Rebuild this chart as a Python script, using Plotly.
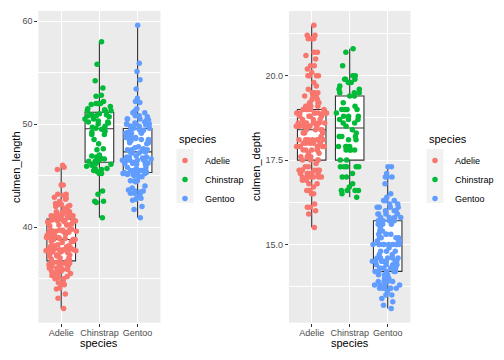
import plotly.graph_objects as go

species = ["Adelie", "Chinstrap", "Gentoo"]
colors = ["#F8766D", "#00BA38", "#619CFF"]

adelie_length = [39.1, 39.5, 40.3, 36.7, 39.3, 38.9, 39.2, 34.1, 42.0, 37.8, 37.8, 41.1, 38.6, 34.6, 36.6, 38.7, 42.5, 34.4, 46.0, 37.8, 37.7, 35.9, 38.2, 38.8, 35.3, 40.6, 40.5, 37.9, 40.5, 39.5, 37.2, 39.5, 40.9, 36.4, 39.2, 38.8, 42.2, 37.6, 39.8, 36.5, 40.8, 36.0, 44.1, 37.0, 39.6, 41.1, 37.5, 36.0, 42.3, 39.6, 40.1, 35.0, 42.0, 34.5, 41.4, 39.0, 40.6, 36.5, 37.6, 35.7, 41.3, 37.6, 41.1, 36.4, 41.6, 35.5, 41.1, 35.9, 41.8, 33.5, 39.7, 39.6, 45.8, 35.5, 42.8, 40.9, 37.2, 36.2, 42.1, 34.6, 42.9, 36.7, 35.1, 37.3, 41.3, 36.3, 36.9, 38.3, 38.9, 35.7, 41.1, 34.0, 39.6, 36.2, 40.8, 38.1, 40.3, 33.1, 43.2, 35.0, 41.0, 37.7, 37.8, 37.9, 39.7, 38.6, 38.2, 38.1, 43.2, 38.1, 45.6, 39.7, 42.2, 39.6, 42.7, 38.6, 37.3, 35.7, 41.1, 36.2, 37.7, 40.2, 41.4, 35.2, 40.6, 38.8, 41.5, 39.0, 44.1, 38.5, 43.1, 36.8, 37.5, 38.1, 41.1, 35.6, 40.2, 37.0, 39.7, 40.2, 40.6, 32.1, 40.7, 37.3, 39.0, 39.2, 36.6, 36.0, 37.8, 36.0, 41.5]
adelie_depth = [18.7, 17.4, 18.0, 19.3, 20.6, 17.8, 19.6, 18.1, 20.2, 17.1, 17.3, 17.6, 21.2, 21.1, 17.8, 19.0, 20.7, 18.4, 21.5, 18.3, 18.7, 19.2, 18.1, 17.2, 18.9, 18.6, 17.9, 18.6, 18.9, 16.7, 18.1, 17.8, 18.9, 17.0, 21.1, 20.0, 18.5, 19.3, 19.1, 18.0, 18.4, 18.5, 19.7, 16.9, 18.8, 19.0, 18.9, 17.9, 21.2, 17.7, 18.9, 17.9, 19.5, 18.1, 18.6, 17.5, 18.8, 16.6, 19.1, 16.9, 21.1, 17.0, 18.2, 17.1, 18.0, 16.2, 19.1, 16.6, 19.4, 19.0, 18.4, 17.2, 18.9, 17.5, 18.5, 16.8, 19.4, 16.1, 19.1, 17.2, 17.6, 18.8, 19.4, 17.8, 20.3, 19.5, 18.6, 19.2, 18.8, 18.0, 18.1, 17.1, 18.1, 17.3, 18.9, 18.6, 18.5, 16.1, 18.5, 17.9, 20.0, 16.0, 20.0, 18.6, 18.9, 17.2, 20.0, 17.0, 19.0, 16.5, 20.3, 17.7, 19.5, 20.7, 18.3, 17.0, 20.5, 17.0, 18.6, 17.2, 19.8, 17.0, 18.5, 15.9, 19.0, 17.6, 18.3, 17.1, 18.0, 17.9, 19.2, 18.5, 18.5, 17.6, 17.5, 17.5, 20.1, 16.5, 17.9, 17.1, 17.2, 15.5, 17.0, 16.8, 18.7, 18.6, 18.4, 17.8, 18.1, 17.1, 18.5]

chinstrap_length = [46.5, 50.0, 51.3, 45.4, 52.7, 45.2, 46.1, 51.3, 46.0, 51.3, 46.6, 51.7, 47.0, 52.0, 45.9, 50.5, 50.3, 58.0, 46.4, 49.2, 42.4, 48.5, 43.2, 50.6, 46.7, 52.0, 50.5, 49.5, 46.4, 52.8, 40.9, 54.2, 42.5, 51.0, 49.7, 47.5, 47.6, 52.0, 46.9, 53.5, 49.0, 46.2, 50.9, 45.5, 50.9, 50.8, 50.1, 49.0, 51.5, 49.8, 48.1, 51.4, 45.7, 50.7, 42.5, 52.2, 45.2, 49.3, 50.2, 45.6, 51.9, 46.8, 45.7, 55.8, 43.5, 49.6, 50.8, 50.2]
chinstrap_depth = [17.9, 19.5, 19.2, 18.7, 19.8, 17.8, 18.2, 18.2, 18.9, 19.9, 17.8, 20.3, 17.3, 18.1, 17.1, 19.6, 20.0, 17.8, 18.6, 18.2, 17.3, 17.5, 16.6, 19.4, 17.9, 19.0, 18.4, 19.0, 17.8, 20.0, 16.6, 20.8, 16.7, 18.8, 18.6, 16.8, 18.3, 20.7, 16.6, 19.9, 19.5, 17.5, 19.1, 17.0, 17.9, 18.5, 17.9, 19.6, 18.7, 17.3, 16.4, 19.0, 17.3, 19.7, 17.3, 18.8, 16.6, 19.9, 18.8, 19.4, 19.5, 16.5, 17.0, 19.8, 18.1, 18.2, 19.0, 18.7]

gentoo_length = [46.1, 50.0, 48.7, 50.0, 47.6, 46.5, 45.4, 46.7, 43.3, 46.8, 40.9, 49.0, 45.5, 48.4, 45.8, 49.3, 42.0, 49.2, 46.2, 48.7, 50.2, 45.1, 46.5, 46.3, 42.9, 46.1, 44.5, 47.8, 48.2, 50.0, 47.3, 42.8, 45.1, 59.6, 49.1, 48.4, 42.6, 44.4, 44.0, 48.7, 42.7, 49.6, 45.3, 49.6, 50.5, 43.6, 45.5, 50.5, 44.9, 45.2, 46.6, 48.5, 45.1, 50.1, 46.5, 45.0, 43.8, 45.5, 43.2, 50.4, 45.3, 46.2, 45.7, 54.3, 45.8, 49.8, 46.2, 49.5, 43.5, 50.7, 47.7, 46.4, 48.2, 46.5, 46.4, 48.6, 47.5, 51.1, 45.2, 45.2, 49.1, 52.5, 47.4, 50.0, 44.9, 50.8, 43.4, 51.3, 47.5, 52.1, 47.5, 52.2, 45.5, 49.5, 44.5, 50.8, 49.4, 46.9, 48.4, 51.1, 48.5, 55.9, 47.2, 49.1, 47.3, 46.8, 41.7, 53.4, 43.3, 48.1, 50.5, 49.8, 43.5, 51.5, 46.2, 55.1, 44.5, 48.8, 47.2, 46.8, 50.4, 45.2, 49.9]
gentoo_depth = [13.2, 16.3, 14.1, 15.2, 14.5, 13.5, 14.6, 15.3, 13.4, 15.4, 13.7, 16.1, 13.7, 14.6, 14.6, 15.7, 13.5, 15.2, 14.5, 15.1, 14.3, 14.5, 14.5, 15.8, 13.1, 15.1, 14.3, 15.0, 14.3, 15.3, 15.3, 14.2, 14.5, 17.0, 14.8, 16.3, 13.7, 17.3, 13.6, 15.7, 13.7, 16.0, 13.7, 15.0, 15.9, 13.9, 13.9, 15.9, 13.3, 15.8, 14.2, 14.1, 14.4, 15.0, 14.4, 15.4, 13.9, 15.0, 14.5, 15.3, 13.8, 14.9, 13.9, 15.7, 14.2, 16.8, 14.4, 16.2, 14.2, 15.0, 15.0, 15.6, 15.6, 14.8, 15.0, 16.0, 14.2, 16.3, 13.8, 16.4, 14.5, 15.6, 14.6, 15.9, 13.8, 17.3, 14.4, 14.2, 14.0, 17.0, 15.0, 17.1, 14.5, 16.1, 14.7, 15.7, 15.8, 14.6, 14.4, 16.5, 15.0, 17.0, 15.5, 15.0, 13.8, 16.1, 14.7, 15.8, 14.0, 15.1, 15.2, 15.9, 15.2, 16.3, 14.1, 16.0, 15.7, 16.2, 13.7, 14.3, 15.7, 14.8, 16.1]

length_ticks = [40, 50, 60]
depth_ticks = [15.0, 17.5, 20.0]

lengths = [adelie_length, chinstrap_length, gentoo_length]
depths = [adelie_depth, chinstrap_depth, gentoo_depth]

FONT = "Liberation Sans, Arial, sans-serif"
W, H = 504, 360

def px_x(p):
    return p / W

def px_y(p):
    return 1 - p / H

fig = go.Figure()

panels = [("x", "y", lengths, "legend"), ("x2", "y2", depths, "legend2")]
for xa, ya, values, leg in panels:
    for sp, vals in zip(species, values):
        fig.add_trace(go.Box(
            x=[sp] * len(vals), y=vals, xaxis=xa, yaxis=ya,
            width=0.75, boxpoints=False, whiskerwidth=0,
            fillcolor="white", line=dict(color="#333333", width=1.1),
            showlegend=False, hoverinfo="skip",
        ))
    for sp, vals, c in zip(species, values, colors):
        fig.add_trace(go.Box(
            x=[sp] * len(vals), y=vals, xaxis=xa, yaxis=ya,
            width=0.82, boxpoints="all", jitter=1, pointpos=0,
            fillcolor="rgba(0,0,0,0)", line=dict(color="rgba(0,0,0,0)", width=0),
            marker=dict(color=c, size=5.5, line=dict(width=0)),
            showlegend=False,
        ))
    for sp, c in zip(species, colors):
        fig.add_trace(go.Scatter(
            x=[None], y=[None], xaxis=xa, yaxis=ya, mode="markers",
            marker=dict(color=c, size=5.5), name=sp, legend=leg, showlegend=True,
        ))

xcommon = dict(
    type="category", categoryorder="array", categoryarray=species,
    range=[-0.6, 2.6], showgrid=True, gridcolor="white", gridwidth=1.1,
    ticks="outside", ticklen=3, tickcolor="#333333", tickwidth=1,
    tickfont=dict(family=FONT, size=9, color="#4D4D4D"), ticklabelstandoff=-2,
    zeroline=False, showline=False, automargin=False, fixedrange=True,
)
ycommon = dict(
    showgrid=True, gridcolor="white", gridwidth=1.1,
    ticks="outside", ticklen=3, tickcolor="#333333", tickwidth=1,
    tickfont=dict(family=FONT, size=9, color="#4D4D4D"),
    zeroline=False, showline=False, automargin=False, fixedrange=True,
)

ydom = [px_y(322.7), px_y(11)]
legcommon = dict(xanchor="left", yanchor="top", bgcolor="rgba(0,0,0,0)",
                 font=dict(family=FONT, size=9, color="black"))
fig.update_layout(
    width=W, height=H,
    margin=dict(l=0, r=0, t=0, b=0),
    paper_bgcolor="white", plot_bgcolor="#EBEBEB",
    boxmode="overlay",
    font=dict(family=FONT),
    xaxis=dict(xcommon, domain=[px_x(38.3), px_x(160.5)], anchor="y"),
    xaxis2=dict(xcommon, domain=[px_x(288.9), px_x(410.5)], anchor="y2"),
    yaxis=dict(ycommon, domain=ydom, anchor="x", range=[30.725, 60.975],
               tickvals=length_ticks, ticktext=[str(v) for v in length_ticks],
               minor=dict(dtick=5, tick0=0, showgrid=True, gridcolor="white", gridwidth=0.55, ticks="")),
    yaxis2=dict(ycommon, domain=ydom, anchor="x2", range=[12.68, 21.92],
                tickvals=depth_ticks, ticktext=[f"{v:.1f}" for v in depth_ticks],
                minor=dict(dtick=1.25, tick0=0, showgrid=True, gridcolor="white", gridwidth=0.55, ticks="")),
    legend=dict(legcommon, x=px_x(165), y=px_y(146)),
    legend2=dict(legcommon, x=px_x(415), y=px_y(146)),
)

# legend key backgrounds (grey95)
for x0, x1 in [(176.5, 193.5), (426.5, 443.5)]:
    fig.add_shape(type="rect", xref="paper", yref="paper", layer="below",
                  x0=px_x(x0), x1=px_x(x1), y0=px_y(203), y1=px_y(149),
                  fillcolor="#F2F2F2", line=dict(width=0))

annots = [
    dict(text="culmen_length", x=px_x(16), y=px_y(167), textangle=-90),
    dict(text="culmen_depth", x=px_x(256), y=px_y(167), textangle=-90),
    dict(text="species", x=px_x(99.4), y=px_y(343)),
    dict(text="species", x=px_x(349.7), y=px_y(343)),
]
for a in annots:
    fig.add_annotation(xref="paper", yref="paper", showarrow=False,
                       xanchor="center", yanchor="middle",
                       font=dict(family=FONT, size=11, color="black"), **a)
for lx in [177, 427]:
    fig.add_annotation(xref="paper", yref="paper", showarrow=False,
                       xanchor="left", yanchor="middle", text="species",
                       x=px_x(lx), y=px_y(139),
                       font=dict(family=FONT, size=11, color="black"))

fig.write_html("out.html", config={"displayModeBar": False},
               post_script="document.body.style.margin='0';")
